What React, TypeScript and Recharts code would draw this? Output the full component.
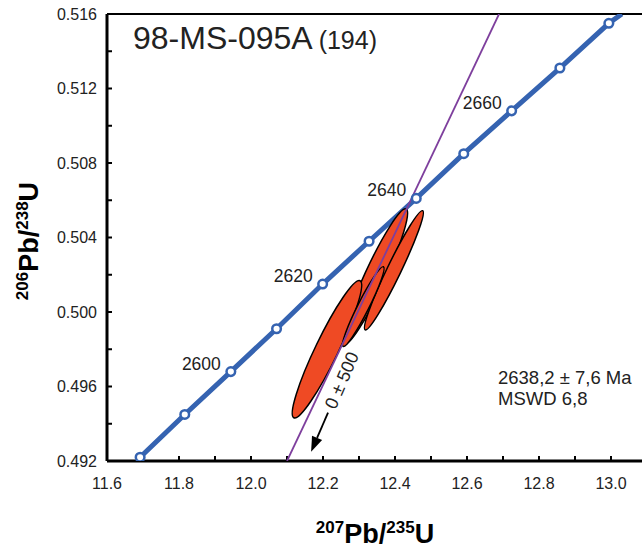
import { Customized, ReferenceLine, Scatter, ScatterChart, XAxis, YAxis } from 'recharts'

// concordia points, 10 Ma apart
const concAges = [2580, 2590, 2600, 2610, 2620, 2630, 2640, 2650, 2660, 2670, 2680]
const concX = [11.692, 11.816, 11.944, 12.071, 12.199, 12.328, 12.459, 12.591, 12.724, 12.858, 12.994]
const concY = [0.4922, 0.4945, 0.4968, 0.4991, 0.5015, 0.5038, 0.5061, 0.5085, 0.5108, 0.5131, 0.5155]
const concTop = { x: 13.03, y: 0.516 }
const labelledAges = [2600, 2620, 2640, 2660]

// discordia and lower intercept arrow
const discX = [12.1, 12.689]
const discY = [0.492, 0.516]
const arrowX = [12.214, 12.167]
const arrowY = [0.4946, 0.4925]

// error ellipses: centre, end of long axis, width / length
const ellX = [12.344, 12.397, 12.211, 12.312]
const ellY = [0.50188, 0.50224, 0.498, 0.50029]
const ellTipX = [12.431, 12.477, 12.303, 12.368]
const ellTipY = [0.50553, 0.50544, 0.50168, 0.50243]
const ellRatio = [0.14, 0.105, 0.15, 0.125]

const xTicks = [11.6, 11.7, 11.8, 11.9, 12.0, 12.1, 12.2, 12.3, 12.4, 12.5, 12.6, 12.7, 12.8, 12.9, 13.0]
const yTicks = [0.492, 0.494, 0.496, 0.498, 0.5, 0.502, 0.504, 0.506, 0.508, 0.51, 0.512, 0.514, 0.516]

const BLUE = '#3563b1'
const PURPLE = '#7e3f9d'
const RED = '#ef4a24'
const TEXT = '#222'
const FONT = '"Liberation Sans", Arial, sans-serif'

const concLine = [...concX.map((x, i) => ({ x, y: concY[i] })), concTop]
const concPoints = concAges.map((age, i) => ({ x: concX[i], y: concY[i], age }))
const discData = discX.map((x, i) => ({ x, y: discY[i] }))
const arrowData = arrowX.map((x, i) => ({ x, y: arrowY[i] }))

const noDot = () => <g />

function ellipseLine(ratio: number) {
  return (p: any) => {
    const [c, t] = p.points
    const ux = t.x - c.x
    const uy = t.y - c.y
    return (
      <circle
        cx={0}
        cy={0}
        r={1}
        transform={`matrix(${ux} ${uy} ${-uy * ratio} ${ux * ratio} ${c.x} ${c.y})`}
        fill={RED}
        stroke="#000"
        strokeWidth={1.5}
        vectorEffect="non-scaling-stroke"
      />
    )
  }
}

function arrowLine(p: any) {
  const [a, b] = p.points
  const dx = b.x - a.x
  const dy = b.y - a.y
  const len = Math.hypot(dx, dy)
  const ux = dx / len
  const uy = dy / len
  const head = 15
  const hw = 5.5
  const bx = b.x - ux * head
  const by = b.y - uy * head
  const ang = (Math.atan2(-dy, -dx) * 180) / Math.PI
  const tx = a.x - ux * 35
  const ty = a.y - uy * 35
  return (
    <g>
      <line x1={a.x} y1={a.y} x2={bx} y2={by} stroke="#000" strokeWidth={1.8} />
      <polygon
        points={`${b.x},${b.y} ${bx - uy * hw},${by + ux * hw} ${bx + uy * hw},${by - ux * hw}`}
        fill="#000"
      />
      <text
        x={tx}
        y={ty}
        transform={`rotate(${ang} ${tx} ${ty})`}
        textAnchor="middle"
        dominantBaseline="central"
        fontSize={18}
        fill={TEXT}
        fontFamily={FONT}
      >
        0 ± 500
      </text>
    </g>
  )
}

function ConcMarker(p: any) {
  const { cx, cy, payload } = p
  return (
    <g>
      <circle cx={cx} cy={cy} r={4.3} fill="#fff" stroke={BLUE} strokeWidth={2.5} />
      {labelledAges.includes(payload.age) && (
        <text x={cx - 10} y={cy - 2} textAnchor="end" fontSize={17.5} fill={TEXT} fontFamily={FONT}>
          {payload.age}
        </text>
      )}
    </g>
  )
}

function Texts() {
  return (
    <g fontFamily={FONT} fill={TEXT}>
      <text x={133} y={49} fontSize={32}>
        98-MS-095A<tspan fontSize={25} dx={6}>(194)</tspan>
      </text>
      <text x={498} y={384} fontSize={18.5}>2638,2 ± 7,6 Ma</text>
      <text x={498} y={405} fontSize={18.5}>MSWD 6,8</text>
      <text x={375} y={543} textAnchor="middle" fontWeight="bold" fill="#000" fontSize={27}>
        <tspan fontSize={17} dy={-10}>207</tspan>
        <tspan dy={10}>Pb/</tspan>
        <tspan fontSize={17} dy={-10}>235</tspan>
        <tspan dy={10}>U</tspan>
      </text>
      <text
        x={38}
        y={241}
        transform="rotate(-90 38 241)"
        textAnchor="middle"
        fontWeight="bold"
        fill="#000"
        fontSize={27}
      >
        <tspan fontSize={17} dy={-10}>206</tspan>
        <tspan dy={10}>Pb/</tspan>
        <tspan fontSize={17} dy={-10}>238</tspan>
        <tspan dy={10}>U</tspan>
      </text>
    </g>
  )
}

const tickStyle = { fontSize: 16, fill: TEXT, fontFamily: FONT }

export default function App() {
  return (
    <div
      style={{
        position: 'absolute',
        left: 0,
        top: 0,
        width: 642,
        height: 550,
        overflow: 'hidden',
        background: '#fff',
        fontFamily: FONT,
      }}
    >
      <ScatterChart width={647} height={550} margin={{ top: 14, right: 0, bottom: 0, left: 0 }}>
        <XAxis
          type="number"
          dataKey="x"
          domain={[11.6, 13.1]}
          allowDataOverflow
          ticks={xTicks}
          interval={0}
          tickFormatter={(v: number, i: number) => (i % 2 === 0 ? v.toFixed(1) : '')}
          tickSize={-5}
          tickMargin={22}
          height={89}
          axisLine={{ stroke: '#000', strokeWidth: 3 }}
          tickLine={{ stroke: '#000', strokeWidth: 2 }}
          tick={tickStyle}
        />
        <YAxis
          type="number"
          dataKey="y"
          domain={[0.492, 0.516]}
          allowDataOverflow
          ticks={yTicks}
          interval={0}
          tickFormatter={(v: number, i: number) => (i % 2 === 0 ? v.toFixed(3) : '')}
          tickSize={-5}
          tickMargin={15}
          width={107}
          axisLine={{ stroke: '#000', strokeWidth: 3 }}
          tickLine={{ stroke: '#000', strokeWidth: 2 }}
          tick={tickStyle}
        />
        <ReferenceLine y={0.516} stroke="#000" strokeWidth={2} />
        <Scatter
          data={concLine}
          line={{ stroke: BLUE, strokeWidth: 5 }}
          shape={noDot}
          isAnimationActive={false}
        />
        {ellX.map((x, i) => (
          <Scatter
            key={i}
            data={[
              { x, y: ellY[i] },
              { x: ellTipX[i], y: ellTipY[i] },
            ]}
            line={ellipseLine(ellRatio[i])}
            shape={noDot}
            isAnimationActive={false}
          />
        ))}
        <Scatter
          data={discData}
          line={{ stroke: PURPLE, strokeWidth: 1.8 }}
          shape={noDot}
          isAnimationActive={false}
        />
        <Scatter data={arrowData} line={arrowLine} shape={noDot} isAnimationActive={false} />
        <Scatter data={concPoints} shape={ConcMarker} isAnimationActive={false} />
        <Customized component={<Texts />} />
      </ScatterChart>
    </div>
  )
}
